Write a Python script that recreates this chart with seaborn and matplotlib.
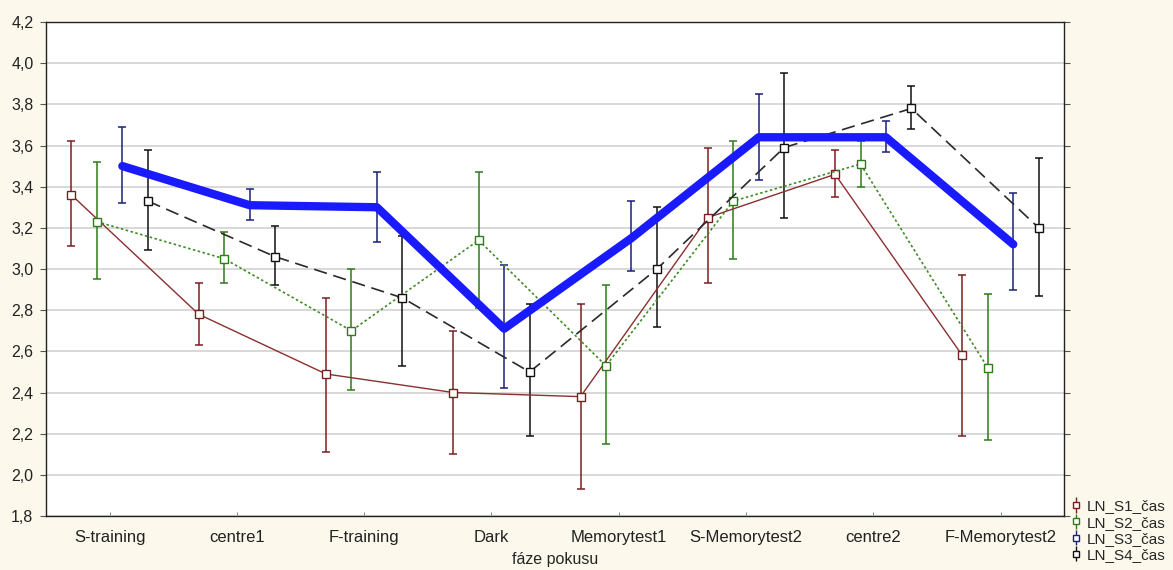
import matplotlib
matplotlib.use("Agg")
import matplotlib.pyplot as plt
import matplotlib.ticker as mticker
from matplotlib import font_manager
import numpy as np
import pandas as pd
import seaborn as sns

# ---------------- data ----------------
categories = ["S-training", "centre1", "F-training", "Dark", "Memorytest1",
              "S-Memorytest2", "centre2", "F-Memorytest2"]
series_names = ["LN_S1_čas", "LN_S2_čas", "LN_S3_čas", "LN_S4_čas"]

s1_mean = [3.36, 2.78, 2.49, 2.40, 2.38, 3.25, 3.46, 2.58]
s1_lo   = [3.11, 2.63, 2.11, 2.10, 1.93, 2.93, 3.35, 2.19]
s1_hi   = [3.62, 2.93, 2.86, 2.70, 2.83, 3.59, 3.58, 2.97]

s2_mean = [3.23, 3.05, 2.70, 3.14, 2.53, 3.33, 3.51, 2.52]
s2_lo   = [2.95, 2.93, 2.41, 2.81, 2.15, 3.05, 3.40, 2.17]
s2_hi   = [3.52, 3.18, 3.00, 3.47, 2.92, 3.62, 3.62, 2.88]

s3_mean = [3.50, 3.31, 3.30, 2.71, 3.15, 3.64, 3.64, 3.12]
s3_lo   = [3.32, 3.24, 3.13, 2.42, 2.99, 3.43, 3.57, 2.90]
s3_hi   = [3.69, 3.39, 3.47, 3.02, 3.33, 3.85, 3.72, 3.37]

s4_mean = [3.33, 3.06, 2.86, 2.50, 3.00, 3.59, 3.78, 3.20]
s4_lo   = [3.09, 2.92, 2.53, 2.19, 2.72, 3.25, 3.68, 2.87]
s4_hi   = [3.58, 3.21, 3.16, 2.83, 3.30, 3.95, 3.89, 3.54]

means = [s1_mean, s2_mean, s3_mean, s4_mean]
lows = [s1_lo, s2_lo, s3_lo, s4_lo]
highs = [s1_hi, s2_hi, s3_hi, s4_hi]

# ---------------- styling ----------------
sns.set_theme(style="white")
avail = {f.name for f in font_manager.fontManager.ttflist}
narrow = "Liberation Sans Narrow" if "Liberation Sans Narrow" in avail else "Liberation Sans"
plt.rcParams["font.family"] = ["Liberation Sans", "DejaVu Sans"]

line_colors = ["#8b2f2f", "#3f8a25", "#1a1aff", "#2a2a2a"]
err_colors = ["#7a1f1f", "#2f7a1a", "#1c1f78", "#111111"]
linestyles = ["-", (0, (1.5, 1.5)), "-", (0, (8, 4))]
linewidths = [1.0, 1.2, 6.0, 1.2]
offsets = [-0.3, -0.1, 0.1, 0.3]
show_marker = [True, True, False, True]

fig = plt.figure(figsize=(11.73, 5.70), dpi=100, facecolor="#fcf8ec")
ax = fig.add_axes([0.0392, 0.0947, 0.8680, 0.8667])
ax.set_facecolor("white")

xbase = np.arange(len(categories))
rows = []
for name, m, off in zip(series_names, means, offsets):
    for i, v in enumerate(m):
        rows.append({"series": name, "x": xbase[i] + off, "value": v})
df = pd.DataFrame(rows)

for k, name in enumerate(series_names):
    sub = df[df["series"] == name]
    x = sub["x"].to_numpy()
    y = sub["value"].to_numpy()
    yerr = np.array([y - np.array(lows[k]), np.array(highs[k]) - y])
    ax.errorbar(x, y, yerr=yerr, fmt="none", ecolor=err_colors[k],
                elinewidth=1.1, capsize=3, capthick=1.1, zorder=2)
    sns.lineplot(data=sub, x="x", y="value", ax=ax, color=line_colors[k],
                 linestyle=linestyles[k], linewidth=linewidths[k],
                 marker="s" if show_marker[k] else None,
                 markersize=6, markerfacecolor="white",
                 markeredgecolor=err_colors[k], markeredgewidth=1.0,
                 sort=False, legend=False, zorder=4 if k == 2 else 3,
                 solid_capstyle="round", solid_joinstyle="round")

ax.set_xlim(-0.5, 7.5)
ax.set_ylim(1.8, 4.2)
ax.set_yticks(np.arange(1.8, 4.21, 0.2))
ax.yaxis.set_major_formatter(mticker.FuncFormatter(lambda v, p: f"{v:.1f}".replace(".", ",")))
ax.set_xticks(xbase)
ax.set_xticklabels(categories, fontfamily=narrow, fontsize=12)
ax.tick_params(axis="y", labelsize=11.5, direction="out", length=4, width=0.8,
               colors="#555555", labelcolor="#222222", left=True, right=True, pad=5)
ax.tick_params(axis="x", direction="in", length=3, width=0.8, bottom=True,
               colors="#888888", labelcolor="#222222", pad=10)
ax.grid(axis="y", color="#d2d2d2", linewidth=1.2)
ax.grid(axis="x", visible=False)
for sp in ax.spines.values():
    sp.set_color("#222222")
    sp.set_linewidth(1.0)
ax.set_xlabel("fáze pokusu", fontsize=11.5, fontfamily=narrow, labelpad=5)
ax.set_ylabel("")

# legend with errorbar-style handles
handles = []
for k in range(4):
    h = ax.errorbar([], [], yerr=[], fmt="s", color=err_colors[k],
                    markerfacecolor="white", markersize=5, capsize=3,
                    elinewidth=1, ls="none")
    handles.append(h)
leg = fig.legend(handles, series_names, loc="lower left",
                 bbox_to_anchor=(1064 / 1173, 0.003), frameon=False,
                 fontsize=11, handlelength=0.8, handletextpad=0.3,
                 labelspacing=0.15, borderaxespad=0)

fig.savefig("out.png", dpi=100, facecolor=fig.get_facecolor())
